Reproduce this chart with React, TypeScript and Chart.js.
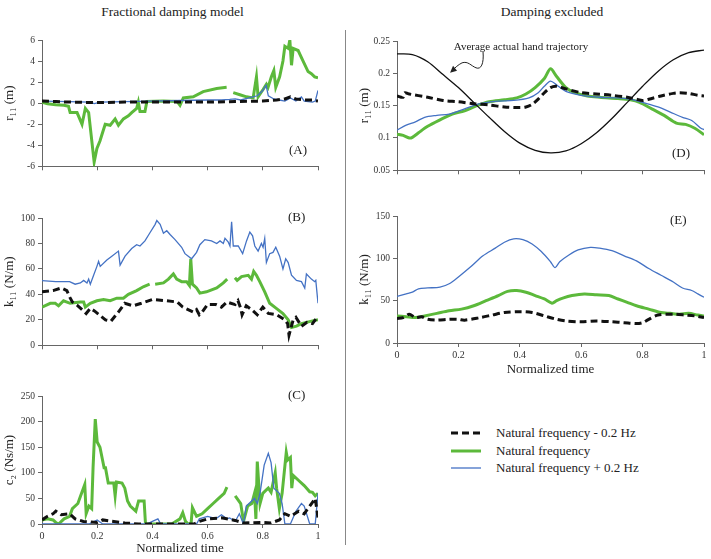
import React, { useEffect, useRef } from "react";
import { Chart, registerables } from "chart.js";
Chart.register(...registerables);

type P = [number, number | null];

const FONT = '"Liberation Serif", "Times New Roman", serif';
Chart.defaults.font.family = FONT;

const X_TICKS = [0, 0.2, 0.4, 0.6, 0.8, 1];

const LEFT_TITLE = "Fractional damping model";
const RIGHT_TITLE = "Damping excluded";
const LEGEND_LABELS = ["Natural frequency - 0.2 Hz", "Natural frequency", "Natural frequency + 0.2 Hz"];
const NOTE_TEXT = "Average actual hand trajectory";
const NOTE_POS: [number, number] = [0.404, 0.2408];
const ARROW_TIP: [number, number] = [0.176, 0.2023];

// Panel A: r11 (m), fractional damping
const A_BLACK: P[] = [[0,0.2],[0.05,0.15],[0.1,0.1],[0.2,0.05],[0.3,0.1],[0.4,0.1],[0.5,0.1],[0.6,0.1],[0.7,0.15],[0.8,0.2],[0.85,0.3],[0.88,0.4],[0.9,0.6],[0.92,0.4],[0.95,0.3],[0.98,0.3],[1,0.2]];
const A_GREEN: P[] = [[0,0.1],[0.02,-0.05],[0.05,-0.15],[0.08,-0.2],[0.096,-0.3],[0.102,-0.9],[0.127,-0.9],[0.145,-2.0],[0.157,-0.5],[0.169,-0.9],[0.189,-5.6],[0.199,-4.3],[0.21,-3.6],[0.217,-3.0],[0.229,-2.0],[0.247,-2.1],[0.265,-1.5],[0.277,-2.1],[0.295,-1.5],[0.313,-1.2],[0.325,-0.9],[0.343,-0.5],[0.349,0.1],[0.355,-0.8],[0.373,-0.8],[0.38,0.15],[0.44,0.2],[0.49,0.15],[0.5,-0.2],[0.512,0.5],[0.548,0.6],[0.584,1.1],[0.633,1.4],[0.669,1.5],[0.68,null],[0.693,1.0],[0.717,0.8],[0.741,0.6],[0.765,0.5],[0.777,2.5],[0.783,0.6],[0.801,1.3],[0.813,1.8],[0.819,1.5],[0.831,2.5],[0.84,3.1],[0.847,1.5],[0.861,2.5],[0.873,4.0],[0.88,5.4],[0.892,5.2],[0.898,6.0],[0.904,3.6],[0.91,5.2],[0.928,5.0],[0.946,4.0],[0.964,3.0],[0.976,2.8],[0.988,2.5],[1,2.4]];
const A_BLUE: P[] = [[0,0.2],[0.1,0.15],[0.17,0.1],[0.19,-0.05],[0.21,0.1],[0.3,0.15],[0.4,0.2],[0.5,0.25],[0.6,0.3],[0.65,0.3],[0.68,0.35],[0.7,0.4],[0.72,0.3],[0.75,0.5],[0.78,0.7],[0.8,1.2],[0.812,1.7],[0.82,0.7],[0.84,0.4],[0.86,0.3],[0.88,0.2],[0.9,0.5],[0.92,0.2],[0.94,0.6],[0.95,0.2],[0.98,0.1],[0.99,0.2],[1,1.2]];

// Panel B: k11 (N/m), fractional damping
const B_BLACK: P[] = [[0,42],[0.04,43],[0.07,45],[0.09,43],[0.1,38],[0.11,34],[0.13,31],[0.15,27],[0.16,25],[0.175,29],[0.19,27],[0.23,20],[0.25,19],[0.265,23],[0.28,27],[0.3,33],[0.33,31],[0.36,33],[0.4,36],[0.45,35],[0.49,34],[0.51,30],[0.55,26],[0.56,28],[0.57,24],[0.58,26],[0.6,32],[0.63,32],[0.65,30],[0.67,34],[0.7,32],[0.71,35],[0.72,29],[0.725,24],[0.74,31],[0.76,28],[0.78,24],[0.8,30],[0.82,25],[0.85,24],[0.88,20],[0.89,17],[0.895,8],[0.91,20],[0.92,22],[0.94,15],[0.96,18],[0.98,17],[1,23]];
const B_GREEN: P[] = [[0,30],[0.03,33],[0.048,33],[0.06,31],[0.078,35],[0.102,33],[0.139,34],[0.151,34],[0.157,30],[0.175,33],[0.199,35],[0.223,36],[0.247,35],[0.271,37],[0.295,37],[0.313,40],[0.343,43],[0.367,46],[0.39,48],[0.395,null],[0.41,48],[0.44,49],[0.458,52],[0.476,56],[0.488,52],[0.506,50],[0.524,50],[0.534,47],[0.539,68],[0.545,48],[0.56,45],[0.572,41],[0.596,42],[0.633,45],[0.657,49],[0.671,52],[0.68,null],[0.699,53],[0.707,51],[0.723,54],[0.747,55],[0.759,52],[0.767,58],[0.777,55],[0.789,50],[0.807,42],[0.825,33],[0.849,29],[0.873,25],[0.892,20],[0.904,14],[0.922,15],[0.94,17],[0.976,19],[1,20]];
const B_BLUE: P[] = [[0,50.8],[0.05,50],[0.1,50],[0.12,48],[0.139,49],[0.151,51],[0.163,49],[0.169,52],[0.175,48],[0.187,55],[0.199,62],[0.205,66],[0.211,62],[0.235,67],[0.253,70],[0.277,74],[0.283,63],[0.301,70],[0.325,76],[0.343,79],[0.355,78],[0.373,82],[0.39,88],[0.41,95],[0.416,98],[0.428,95],[0.44,88],[0.452,90],[0.464,87],[0.482,83],[0.506,77],[0.518,72],[0.53,70],[0.542,68],[0.56,73],[0.572,79],[0.59,83],[0.614,82],[0.633,80],[0.645,82],[0.657,80],[0.663,84],[0.675,81],[0.681,78],[0.687,97],[0.693,78],[0.711,78],[0.727,72],[0.741,82],[0.753,89],[0.763,86],[0.771,78],[0.783,74],[0.795,80],[0.801,77],[0.807,84],[0.813,65],[0.825,72],[0.837,73],[0.847,77],[0.861,70],[0.873,60],[0.883,68],[0.892,65],[0.904,55],[0.922,51],[0.94,50],[0.952,45],[0.958,56],[0.976,52],[0.988,50],[0.992,51],[1,33]];

// Panel C: c2 (Ns/m), fractional damping
const C_BLACK: P[] = [[0,8],[0.02,15],[0.04,20],[0.05,25],[0.07,18],[0.1,20],[0.12,10],[0.15,5],[0.2,3],[0.22,8],[0.26,5],[0.3,2],[0.35,0],[0.55,0],[0.57,5],[0.6,10],[0.65,12],[0.7,7],[0.73,2],[0.8,3],[0.83,2],[0.86,8],[0.88,20],[0.9,15],[0.93,25],[0.95,20],[0.97,35],[0.99,50],[1,12]];
const C_GREEN: P[] = [[0,8],[0.02,10],[0.04,8],[0.05,3],[0.06,0],[0.08,10],[0.1,15],[0.11,30],[0.13,40],[0.14,55],[0.155,77],[0.16,20],[0.17,35],[0.18,30],[0.185,110],[0.193,205],[0.2,160],[0.21,150],[0.225,110],[0.23,110],[0.24,80],[0.26,80],[0.265,55],[0.27,82],[0.29,80],[0.3,70],[0.31,45],[0.32,35],[0.34,25],[0.35,45],[0.37,45],[0.375,0],[0.47,0],[0.5,10],[0.51,22],[0.52,5],[0.53,0],[0.54,0],[0.545,32],[0.56,15],[0.58,20],[0.6,30],[0.62,40],[0.64,50],[0.66,60],[0.67,72],[0.685,null],[0.7,55],[0.72,40],[0.73,5],[0.745,35],[0.76,40],[0.77,60],[0.775,10],[0.78,122],[0.79,40],[0.8,60],[0.81,65],[0.82,70],[0.83,62],[0.845,100],[0.85,70],[0.86,30],[0.87,60],[0.885,140],[0.89,125],[0.9,130],[0.905,70],[0.91,95],[0.93,85],[0.95,75],[0.97,63],[0.98,62],[0.99,55],[1,60]];
const C_BLUE: P[] = [[0,0],[0.17,0],[0.19,5],[0.2,8],[0.22,0],[0.38,0],[0.4,5],[0.42,10],[0.43,0],[0.56,0],[0.57,10],[0.6,15],[0.62,12],[0.63,10],[0.65,18],[0.67,10],[0.68,12],[0.7,5],[0.715,20],[0.73,0],[0.74,35],[0.77,50],[0.78,40],[0.79,60],[0.805,115],[0.82,138],[0.83,120],[0.84,70],[0.86,60],[0.87,40],[0.88,0],[0.9,0],[0.92,25],[0.94,40],[0.95,35],[0.97,0],[0.99,0],[1,60]];

// Panel D: r11 (m), damping excluded
const D_TRAJ: P[] = [[0,0.230],[0.05,0.229],[0.1,0.218],[0.15,0.198],[0.2,0.178],[0.25,0.155],[0.3,0.132],[0.35,0.110],[0.4,0.092],[0.45,0.081],[0.5,0.077],[0.55,0.080],[0.6,0.091],[0.65,0.108],[0.7,0.130],[0.75,0.155],[0.8,0.180],[0.85,0.203],[0.9,0.221],[0.95,0.232],[1,0.236]];
const D_BLACK: P[] = [[0,0.165],[0.02,0.163],[0.025,0.17],[0.04,0.168],[0.1,0.163],[0.15,0.158],[0.2,0.156],[0.25,0.153],[0.3,0.151],[0.35,0.148],[0.4,0.147],[0.42,0.148],[0.44,0.152],[0.46,0.16],[0.48,0.17],[0.5,0.178],[0.52,0.18],[0.55,0.176],[0.6,0.17],[0.65,0.168],[0.7,0.166],[0.75,0.163],[0.78,0.16],[0.8,0.158],[0.82,0.16],[0.86,0.165],[0.9,0.169],[0.92,0.17],[0.95,0.169],[0.98,0.166],[1,0.165]];
const D_GREEN: P[] = [[0,0.106],[0.02,0.104],[0.04,0.1],[0.05,0.101],[0.07,0.108],[0.1,0.118],[0.14,0.128],[0.18,0.137],[0.22,0.142],[0.26,0.15],[0.3,0.156],[0.35,0.159],[0.39,0.162],[0.42,0.168],[0.45,0.178],[0.48,0.192],[0.5,0.207],[0.52,0.195],[0.55,0.178],[0.58,0.17],[0.62,0.165],[0.66,0.163],[0.72,0.161],[0.76,0.159],[0.79,0.155],[0.83,0.145],[0.87,0.135],[0.91,0.123],[0.94,0.121],[0.97,0.115],[1,0.105]];
const D_BLUE: P[] = [[0,0.112],[0.03,0.12],[0.06,0.125],[0.09,0.132],[0.13,0.135],[0.17,0.137],[0.22,0.145],[0.27,0.153],[0.33,0.157],[0.38,0.158],[0.43,0.162],[0.46,0.17],[0.48,0.18],[0.5,0.188],[0.52,0.182],[0.55,0.172],[0.6,0.166],[0.66,0.163],[0.72,0.162],[0.77,0.159],[0.8,0.155],[0.85,0.148],[0.89,0.14],[0.93,0.132],[0.96,0.127],[0.99,0.115],[1,0.113]];

// Panel E: k11 (N/m), damping excluded
const E_BLACK: P[] = [[0,29],[0.02,30],[0.04,34],[0.06,30],[0.08,31],[0.1,28],[0.13,27],[0.17,28],[0.2,28],[0.22,27],[0.27,30],[0.31,33],[0.35,36],[0.4,37],[0.44,36],[0.48,32],[0.52,28],[0.55,26],[0.6,25],[0.65,26],[0.7,25],[0.74,24],[0.78,23],[0.8,24],[0.82,28],[0.85,33],[0.9,34],[0.94,33],[0.97,32],[1,30]];
const E_GREEN: P[] = [[0,32],[0.03,31],[0.06,30],[0.09,32],[0.13,35],[0.17,38],[0.21,40],[0.25,44],[0.29,50],[0.33,56],[0.36,61],[0.39,62],[0.42,60],[0.45,56],[0.48,52],[0.505,47],[0.52,50],[0.54,53],[0.57,56],[0.61,58],[0.65,57],[0.69,56],[0.72,52],[0.75,48],[0.78,44],[0.82,40],[0.86,36],[0.89,35],[0.92,34],[0.95,35],[0.98,33],[1,32]];
const E_BLUE: P[] = [[0,55],[0.03,58],[0.05,60],[0.07,64],[0.1,65],[0.14,66],[0.17,70],[0.2,78],[0.24,90],[0.28,103],[0.32,112],[0.35,119],[0.38,123],[0.41,122],[0.44,117],[0.47,108],[0.5,96],[0.515,89],[0.53,96],[0.56,104],[0.59,110],[0.63,113],[0.66,112],[0.7,109],[0.74,103],[0.78,97],[0.82,88],[0.86,80],[0.9,72],[0.93,65],[0.96,62],[0.98,58],[1,54]];

const GREEN = "#5cb93b";
const BLUE = "#4472c4";
const BLACK = "#111111";
const AXIS = "#666666";

type Kind = "black" | "green" | "blue" | "traj";
const STYLE: Record<Kind, any> = {
  black: { borderColor: BLACK, borderWidth: 3, borderDash: [7, 4] },
  green: { borderColor: GREEN, borderWidth: 3 },
  blue: { borderColor: BLUE, borderWidth: 1.3 },
  traj: { borderColor: BLACK, borderWidth: 1.3 },
};

interface PanelSpec {
  series: { kind: Kind; data: P[] }[];
  yMin: number; yMax: number; yStep: number;
  yTitle: string;
  showX: boolean;
  xHeight: number;
  rightPad: number;
  smooth?: boolean;
  yFmt?: (v: number) => string;
  plugins?: any[];
}

function makeConfig(s: PanelSpec): any {
  return {
    type: "line",
    data: {
      datasets: s.series.map((sr) => ({
        data: sr.data.map(([x, y]) => ({ x, y })),
        ...STYLE[sr.kind],
        pointRadius: 0,
        fill: false,
        spanGaps: false,
        tension: s.smooth ? 0.3 : 0,
      })),
    },
    plugins: s.plugins || [],
    options: {
      responsive: false,
      animation: false,
      devicePixelRatio: 1,
      layout: { padding: { top: 10, right: s.rightPad, left: 0, bottom: 0 } },
      plugins: { legend: { display: false }, tooltip: { enabled: false } },
      scales: {
        x: {
          type: "linear",
          min: 0,
          max: 1,
          afterBuildTicks: (sc: any) => { sc.ticks = X_TICKS.map((v) => ({ value: v })); },
          afterFit: (sc: any) => { sc.height = s.xHeight; },
          ticks: {
            display: s.showX,
            font: { size: 10, family: FONT },
            color: "#333",
            padding: 2,
            maxRotation: 0,
            callback: (v: number) => String(Math.round(v * 10) / 10),
          },
          grid: { drawOnChartArea: false, drawTicks: true, tickLength: 4, color: AXIS },
          border: { display: true, color: AXIS, width: 1 },
          title: {
            display: s.showX,
            text: "Normalized time",
            font: { size: 13, family: FONT },
            color: "#222",
            padding: { top: 0, bottom: 3 },
          },
        },
        y: {
          min: s.yMin,
          max: s.yMax,
          afterFit: (sc: any) => { sc.width = 42; },
          ticks: {
            stepSize: s.yStep,
            font: { size: 9.5, family: FONT },
            color: "#333",
            padding: 3,
            callback: (v: number) => (s.yFmt ? s.yFmt(v) : String(Math.round(v * 100) / 100)),
          },
          grid: { drawOnChartArea: false, drawTicks: true, tickLength: 4, color: AXIS },
          border: { display: true, color: AXIS, width: 1 },
          title: {
            display: true,
            text: s.yTitle,
            font: { size: 13, family: FONT },
            color: "#222",
            padding: { top: 2, bottom: 0 },
          },
        },
      },
    },
  };
}

const trajNote = {
  id: "trajNote",
  afterDatasetsDraw(chart: any) {
    const { ctx, scales } = chart;
    const x = scales.x, y = scales.y;
    const tx = x.getPixelForValue(NOTE_POS[0]);
    const ty = y.getPixelForValue(NOTE_POS[1]);
    const ax = x.getPixelForValue(ARROW_TIP[0]);
    const ay = y.getPixelForValue(ARROW_TIP[1]);
    ctx.save();
    ctx.font = `11px ${FONT}`;
    ctx.fillStyle = "#222";
    ctx.textAlign = "center";
    ctx.textBaseline = "middle";
    ctx.fillText(NOTE_TEXT, tx, ty);
    ctx.strokeStyle = "#222";
    ctx.lineWidth = 1;
    ctx.beginPath();
    ctx.moveTo(ax + 32, ay - 20);
    ctx.bezierCurveTo(ax + 33, ay - 8, ax + 30, ay - 2, ax + 25, ay - 4);
    ctx.bezierCurveTo(ax + 20, ay - 6, ax + 17, ay - 11, ax + 11, ay - 9);
    ctx.bezierCurveTo(ax + 7, ay - 7, ax + 4, ay - 4, ax + 2, ay - 2);
    ctx.stroke();
    ctx.fillStyle = "#222";
    ctx.beginPath();
    ctx.moveTo(ax - 1, ay + 1);
    ctx.lineTo(ax + 6, ay - 1);
    ctx.lineTo(ax + 2, ay - 6);
    ctx.closePath();
    ctx.fill();
    ctx.restore();
  },
};

function Panel(props: { left: number; top: number; width: number; height: number; spec: PanelSpec }) {
  const ref = useRef<HTMLCanvasElement>(null);
  useEffect(() => {
    const chart = new Chart(ref.current as HTMLCanvasElement, makeConfig(props.spec));
    return () => chart.destroy();
  }, []);
  return (
    <canvas
      ref={ref}
      width={props.width}
      height={props.height}
      style={{ position: "absolute", left: props.left, top: props.top, width: props.width, height: props.height }}
    />
  );
}

const fmtD = (v: number) => String(Number(v.toFixed(2)));

const txt = (left: number, top: number, s: string, size: number, extra: any = {}) => (
  <div style={{ position: "absolute", left, top, fontSize: size, lineHeight: `${size + 2}px`, whiteSpace: "nowrap", color: "#222", ...extra }}>{s}</div>
);

export default function App() {
  const legendKinds: Kind[] = ["black", "green", "blue"];
  const legendY = [433, 451, 468];
  return (
    <div style={{ position: "fixed", left: 0, top: 0, width: 711, height: 559, background: "#fff", fontFamily: FONT, overflow: "hidden" }}>
      <div style={{ position: "absolute", left: 0, width: 345, top: 4, textAlign: "center", fontSize: 13.5, color: "#222" }}>{LEFT_TITLE}</div>
      <div style={{ position: "absolute", left: 400, width: 304, top: 4, textAlign: "center", fontSize: 13.5, color: "#222" }}>{RIGHT_TITLE}</div>
      <div style={{ position: "absolute", left: 345, top: 30, width: 1, height: 515, background: "#888" }} />

      <Panel left={0} top={30} width={330} height={145}
        spec={{ series: [{ kind: "black", data: A_BLACK }, { kind: "blue", data: A_BLUE }, { kind: "green", data: A_GREEN }], yMin: -6, yMax: 6, yStep: 2, yTitle: "r₁₁ (m)", showX: false, xHeight: 8, rightPad: 12 }} />
      <Panel left={0} top={208} width={330} height={146}
        spec={{ series: [{ kind: "black", data: B_BLACK }, { kind: "blue", data: B_BLUE }, { kind: "green", data: B_GREEN }], yMin: 0, yMax: 100, yStep: 20, yTitle: "k₁₁ (N/m)", showX: false, xHeight: 8, rightPad: 12 }} />
      <Panel left={0} top={386} width={330} height={173}
        spec={{ series: [{ kind: "black", data: C_BLACK }, { kind: "blue", data: C_BLUE }, { kind: "green", data: C_GREEN }], yMin: 0, yMax: 250, yStep: 50, yTitle: "c₂ (Ns/m)", showX: true, xHeight: 35, rightPad: 12 }} />
      <Panel left={355} top={31} width={356} height={148}
        spec={{ series: [{ kind: "traj", data: D_TRAJ }, { kind: "black", data: D_BLACK }, { kind: "blue", data: D_BLUE }, { kind: "green", data: D_GREEN }], yMin: 0.05, yMax: 0.25, yStep: 0.05, yTitle: "r₁₁ (m)", showX: false, xHeight: 8, rightPad: 7, smooth: true, yFmt: fmtD, plugins: [trajNote] }} />
      <Panel left={355} top={206} width={356} height={174}
        spec={{ series: [{ kind: "black", data: E_BLACK }, { kind: "blue", data: E_BLUE }, { kind: "green", data: E_GREEN }], yMin: 0, yMax: 150, yStep: 50, yTitle: "k₁₁ (N/m)", showX: true, xHeight: 37, rightPad: 7, smooth: true }} />

      {txt(289, 142, "(A)", 13)}
      {txt(288, 209, "(B)", 13)}
      {txt(288, 387, "(C)", 13)}
      {txt(672, 145, "(D)", 13)}
      {txt(670, 212, "(E)", 13)}

      {legendKinds.map((k, i) => (
        <svg key={k} width={32} height={6} style={{ position: "absolute", left: 451, top: legendY[i] - 3 }}>
          <line x1={0} y1={3} x2={30} y2={3} stroke={STYLE[k].borderColor} strokeWidth={STYLE[k].borderWidth}
            strokeDasharray={k === "black" ? "7 4" : undefined} />
        </svg>
      ))}
      {LEGEND_LABELS.map((l, i) => txt(496, legendY[i] - 8, l, 13))}
    </div>
  );
}
